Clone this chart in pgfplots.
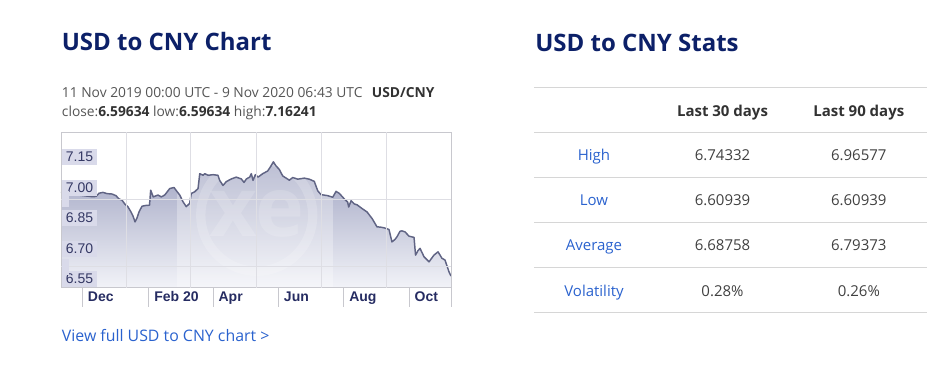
\documentclass[border=0pt]{standalone}
\usepackage{pgfplots}
\usepackage{pgfplotstable}
\pgfplotsset{compat=1.18}
\usepackage{fontspec}
\setmainfont{Open Sans}
\newfontfamily\arial{Liberation Sans}
\definecolor{navy}{RGB}{12,32,104}
\definecolor{subgrey}{RGB}{85,85,85}
\definecolor{darktxt}{RGB}{50,50,50}
\definecolor{linkblue}{RGB}{42,98,206}
\definecolor{valtxt}{RGB}{64,64,64}
\definecolor{rulegrey}{RGB}{214,214,214}
\definecolor{framegrey}{RGB}{200,200,206}
\definecolor{gridgrey}{RGB}{222,222,228}
\definecolor{linecol}{RGB}{96,100,132}
\definecolor{filltop}{RGB}{160,164,194}
\definecolor{fillbot}{RGB}{242,243,248}
\definecolor{labbox}{RGB}{217,218,234}
\definecolor{labtxt}{RGB}{52,56,100}
\definecolor{xlabtxt}{RGB}{38,44,98}

\pgfplotstableread{
day rate
0 6.978
8.4 6.972
17.7 6.962
28.9 6.955
32.7 6.956
35.5 6.972
39.2 6.976
42.9 6.970
47.6 6.968
51.3 6.960
54.1 6.944
56.9 6.938
59.7 6.918
62.5 6.905
65.3 6.880
67.2 6.860
69.1 6.831
70.9 6.850
72.8 6.880
75.6 6.908
79.3 6.912
82.6 6.913
83.7 6.987
86.1 6.954
90.5 6.963
93.6 6.954
96.8 6.963
101.5 6.995
105.5 7.000
107.6 6.985
110.8 6.963
113.9 6.930
116.9 6.906
120.1 6.922
121.6 6.971
124.8 6.979
127.9 6.995
129.5 7.068
132.5 7.060
134.1 7.068
137.2 7.060
141.9 7.063
146.5 7.060
148.1 7.035
151.2 7.010
154.3 7.029
158.9 7.042
163.6 7.051
168.3 7.042
170.8 7.025
173.0 7.042
176.1 7.051
177.6 7.068
179.2 7.035
181.4 7.063
183.9 7.051
188.3 7.068
192.9 7.081
196.0 7.106
198.2 7.126
200.7 7.106
203.7 7.089
206.9 7.057
213.1 7.036
216.3 7.049
220.9 7.041
227.1 7.046
231.7 7.041
236.4 7.030
239.6 6.984
242.7 6.965
248.9 6.960
253.6 6.952
256.7 6.981
259.8 6.971
264.4 6.944
267.6 6.928
268.5 6.904
270.7 6.935
273.8 6.919
276.3 6.915
280.9 6.897
285.6 6.880
290.3 6.848
294.9 6.807
298.7 6.805
301.5 6.802
306.1 6.794
308.9 6.733
311.7 6.745
313.6 6.758
316.4 6.785
318.3 6.787
321.1 6.782
324.8 6.761
329.5 6.755
330.9 6.668
333.2 6.690
335.1 6.701
338.8 6.660
343.5 6.635
348.1 6.668
351.9 6.684
355.6 6.652
358.4 6.644
362.1 6.586
364 6.565
}\ratedata

\begin{document}
\begin{tikzpicture}[x=0.75pt,y=0.75pt]
\useasboundingbox (0,0) rectangle (946,375);

% ---- left block texts
\node[anchor=base west, inner sep=0, text=navy, font=\fontsize{18}{21}\selectfont\bfseries] at (61.5,324.3) {USD to CNY Chart};
\node[anchor=base west, inner sep=0, text=subgrey, font=\fontsize{10.35}{12}\selectfont] at (61.7,277.7)
  {11 Nov 2019 00:00 UTC - 9 Nov 2020 06:43 UTC\hspace{7pt}\textcolor{darktxt}{\bfseries USD/CNY}};
\node[anchor=base west, inner sep=0, text=subgrey, font=\fontsize{10.35}{12}\selectfont] at (61.7,258.3)
  {close:\textcolor{darktxt}{\bfseries 6.59634} low:\textcolor{darktxt}{\bfseries 6.59634} high:\textcolor{darktxt}{\bfseries 7.16241}};
\node[anchor=base west, inner sep=0, text=linkblue, font=\fontsize{11.9}{14}\selectfont] at (61.7,34)
  {View full USD to CNY chart >};

% ---- chart
\begin{axis}[
  at={(45.75pt,65.25pt)}, anchor=south west,
  width=292.5pt, height=117pt, scale only axis,
  xmin=0, xmax=364, ymin=6.5064, ymax=7.2726,
  axis on top, clip=false,
  axis line style={draw=framegrey, line width=0.75pt},
  major tick length=0pt,
  tick style={draw=none},
  xtick={20,82,142,203,264,325},
  xticklabels={Dec,Feb 20,Apr,Jun,Aug,Oct},
  xticklabel style={anchor=base west, inner sep=0pt, xshift=3.9pt, yshift=-10.3pt,
     font=\arial\fontsize{10.5}{12}\selectfont\bfseries, text=xlabtxt},
  ytick={6.55,6.70,6.85,7.00,7.15},
  yticklabel style={anchor=west, xshift=0.9pt, fill=labbox, inner xsep=2.6pt, inner ysep=0pt,
     minimum height=12pt, font=\arial\fontsize{10.5}{12}\selectfont, text=labtxt},
  /pgf/number format/.cd, fixed, fixed zerofill, precision=2, assume math mode=true,
  /pgfplots/.cd,
  extra x ticks={60.67,121.33,182,242.67,303.33},
  extra x tick labels={},
  extra x tick style={grid=major},
  extra y ticks={6.943,6.611},
  extra y tick labels={},
  extra y tick style={grid=major},
  major grid style={draw=gridgrey, line width=0.75pt},
]
\addplot[draw=none, top color=filltop, bottom color=fillbot]
  table[x=day, y=rate] {\ratedata} -- (axis cs:364,6.5064) -- (axis cs:0,6.5064) -- cycle;
% watermark band and logo ring
\fill[white, opacity=0.3] (axis cs:108,6.5064) rectangle (axis cs:254,7.2726);
\draw[white, opacity=0.18, line width=7pt] (axis cs:182.7,6.864) circle[radius=42pt];
\node[text=white, opacity=0.16, font=\fontsize{62}{62}\selectfont\bfseries] at (axis cs:182.7,6.87) {xe};
\addplot[draw=linecol, line width=1.1pt, line join=round] table[x=day, y=rate] {\ratedata};
% month tick marks below the axis
\draw[framegrey, line width=0.75pt] (axis cs:20,6.5064) -- ++(0pt,-14.25pt);
\draw[framegrey, line width=0.75pt] (axis cs:82,6.5064) -- ++(0pt,-14.25pt);
\draw[framegrey, line width=0.75pt] (axis cs:142,6.5064) -- ++(0pt,-14.25pt);
\draw[framegrey, line width=0.75pt] (axis cs:203,6.5064) -- ++(0pt,-14.25pt);
\draw[framegrey, line width=0.75pt] (axis cs:264,6.5064) -- ++(0pt,-14.25pt);
\draw[framegrey, line width=0.75pt] (axis cs:325,6.5064) -- ++(0pt,-14.25pt);
\draw[framegrey, line width=0.75pt] (axis cs:364,6.5064) -- ++(0pt,-14.25pt);
\end{axis}

% ---- right block: stats table
\node[anchor=base west, inner sep=0, text=navy, font=\fontsize{18}{21}\selectfont\bfseries] at (535,323.3) {USD to CNY Stats};
\foreach \yy in {287.7,242.3,197.7,152.7,107.7,62.7}
  \draw[rulegrey, line width=0.75pt] (534,\yy) -- (927,\yy);
\node[anchor=base, inner sep=0, text=darktxt, font=\fontsize{11.25}{13}\selectfont\bfseries] at (722.5,258.3) {Last 30 days};
\node[anchor=base, inner sep=0, text=darktxt, font=\fontsize{11.25}{13}\selectfont\bfseries] at (858.8,258.3) {Last 90 days};
\begin{scope}[every node/.style={anchor=base, inner sep=0, font=\fontsize{11.25}{13}\selectfont}]
\node[text=linkblue] at (594,214.3) {High};
\node[text=valtxt] at (722.5,214.3) {6.74332};
\node[text=valtxt] at (858.8,214.3) {6.96577};
\node[text=linkblue] at (594,169.3) {Low};
\node[text=valtxt] at (722.5,169.3) {6.60939};
\node[text=valtxt] at (858.8,169.3) {6.60939};
\node[text=linkblue] at (594,124) {Average};
\node[text=valtxt] at (722.5,124) {6.68758};
\node[text=valtxt] at (858.8,124) {6.79373};
\node[text=linkblue] at (594,79) {Volatility};
\node[text=valtxt] at (722.5,79) {0.28\%};
\node[text=valtxt] at (858.8,79) {0.26\%};
\end{scope}
\end{tikzpicture}
\end{document}
